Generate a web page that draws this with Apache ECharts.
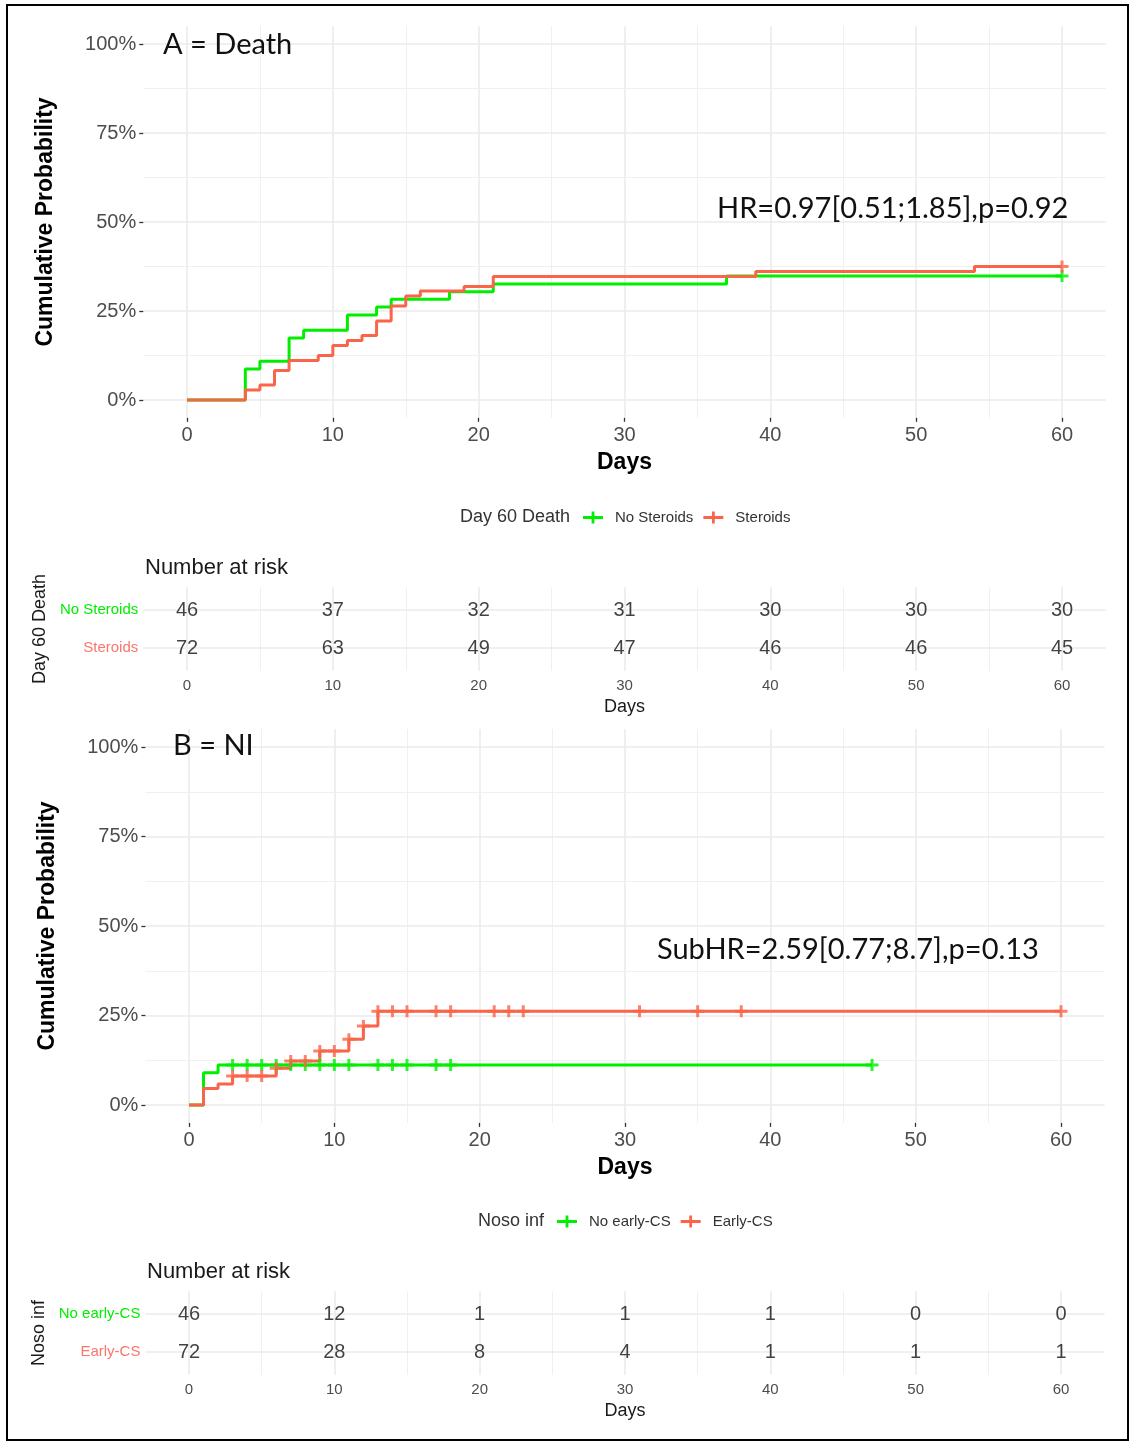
<!DOCTYPE html>
<html>
<head>
<meta charset="utf-8">
<title>Cumulative Probability</title>
<script src="https://cdn.jsdelivr.net/npm/echarts@6/dist/echarts.min.js"></script>
<style>
    html, body { margin: 0; padding: 0; background: #fff; }
    #chart { width: 1133px; height: 1443px; }
</style>
</head>
<body>
<div id="chart"></div>
<script>
// A = Death (Day 60 Death)
var daysA_no = [0, 4, 5, 7, 8, 11, 13, 14, 18, 21, 37, 60];
var probA_no = [0, 8.7, 10.9, 17.4, 19.6, 23.9, 26.1, 28.3, 30.4, 32.6, 34.8, 34.8];
var daysA_st = [0, 4, 5, 6, 7, 9, 10, 11, 12, 13, 14, 15, 16, 19, 21, 39, 54, 60];
var probA_st = [0, 2.8, 4.2, 8.3, 11.1, 12.5, 15.3, 16.7, 18.1, 22.2, 26.4, 29.2, 30.6, 31.9, 34.7, 36.1, 37.5, 37.5];
var censA_no = [60];
var censA_st = [60];

// B = NI (Noso inf)
var daysB_no = [0, 1, 2, 47];
var probB_no = [0, 9.0, 11.2, 11.2];
var daysB_st = [0, 1, 2, 3, 6, 7, 9, 11, 12, 13, 60];
var probB_st = [0, 4.6, 5.9, 8.1, 10.3, 12.3, 15.1, 18.4, 22.1, 26.2, 26.2];
var censB_no = [3, 4, 5, 6, 7, 8, 9, 10, 11, 13, 14, 15, 17, 18, 47];
var censB_st = [3, 4, 5, 6, 7, 8, 9, 10, 11, 12, 13, 14, 15, 17, 18, 21, 22, 23, 31, 35, 38, 60];

// number at risk
var riskDays = [0, 10, 20, 30, 40, 50, 60];
var riskA_no = [46, 37, 32, 31, 30, 30, 30];
var riskA_st = [72, 63, 49, 47, 46, 46, 45];
var riskB_no = [46, 12, 1, 1, 1, 0, 0];
var riskB_st = [72, 28, 8, 4, 1, 1, 1];

var xTicks = [0, 10, 20, 30, 40, 50, 60];
var xMinor = [5, 15, 25, 35, 45, 55];
var yTicks = [0, 25, 50, 75, 100];
var yMinor = [12.5, 37.5, 62.5, 87.5];

var GREEN = '#00EE00';
var RED = '#FA6448';
var SANS = '"Liberation Sans", Arial, sans-serif';
var ANNO = 'Lato, "Open Sans", sans-serif';
var PLUS = 'path://M0,4.5H13V7.5H0Z M5,0H8V12H5Z';
var LEG_PLUS = 'path://M0,4.6H20V7.4H0Z M8.6,0H11.4V12H8.6Z';

function pairs(days, vals) {
    return days.map(function (d, i) { return [d, vals[i]]; });
}
function valueAt(days, vals, t) {
    var v = vals[0];
    for (var i = 0; i < days.length; i++) if (days[i] <= t) v = vals[i];
    return v;
}
function cens(list, days, vals) {
    return list.map(function (t) { return [t, valueAt(days, vals, t)]; });
}
function riskData(vals, row) {
    return riskDays.map(function (d, i) { return [d, row, vals[i]]; });
}

// grid geometry (pixel)
var gA = { left: 143.25, width: 962.5, top: 26.2, height: 391.6 };
var tA = { left: 143.25, width: 962.5, top: 587.2, height: 83.6 };
var gB = { left: 145.4, width: 959.2, top: 729.1, height: 393.8 };
var tB = { left: 145.4, width: 959.2, top: 1291.2, height: 83.6 };

function gridLines(hy, xi) {
    var data = [];
    xTicks.forEach(function (v) { data.push({ xAxis: v, lineStyle: { type: 'solid', width: 1.6, color: '#EBEBEB' } }); });
    xMinor.forEach(function (v) { data.push({ xAxis: v, lineStyle: { type: 'solid', width: 1.1, color: '#F0F0F0' } }); });
    hy.forEach(function (h) { data.push({ yAxis: h.v, lineStyle: { type: 'solid', width: h.w, color: h.c } }); });
    return {
        type: 'line', xAxisIndex: xi, yAxisIndex: xi, data: [], z: 0, silent: true,
        markLine: {
            z: 0, silent: true, symbol: ['none', 'none'], label: { show: false }, animation: false,
            lineStyle: { type: 'solid' }, emphasis: { disabled: true }, data: data
        }
    };
}
var plotH = yTicks.map(function (v) { return { v: v, w: 1.6, c: '#EBEBEB' }; })
    .concat(yMinor.map(function (v) { return { v: v, w: 1.1, c: '#F0F0F0' }; }));
var tableH = [{ v: 1, w: 1.6, c: '#EBEBEB' }, { v: 2, w: 1.6, c: '#EBEBEB' }];

var hiddenLine = { show: true, onZero: false, lineStyle: { color: 'rgba(0,0,0,0)' } };

function plotX(gi) {
    return {
        gridIndex: gi, type: 'value', min: -3, max: 63,
        splitLine: { show: false }, axisLine: hiddenLine,
        axisTick: { show: true, customValues: xTicks, length: 4, lineStyle: { color: '#333', width: 1.3 } },
        axisLabel: { customValues: xTicks, fontSize: 20, color: '#4D4D4D', margin: 8, fontFamily: SANS },
        name: 'Days', nameLocation: 'middle', nameGap: 33,
        nameTextStyle: { fontSize: 23, fontWeight: 'bold', color: '#000', fontFamily: SANS }
    };
}
function plotY(gi) {
    return {
        gridIndex: gi, type: 'value', min: -5, max: 105,
        splitLine: { show: false }, axisLine: hiddenLine,
        axisTick: { show: true, customValues: yTicks, length: 4, lineStyle: { color: '#333', width: 1.3 } },
        axisLabel: { customValues: yTicks, formatter: '{value}%', fontSize: 20, color: '#4D4D4D', margin: 7, fontFamily: SANS },
        name: 'Cumulative Probability', nameLocation: 'middle', nameRotate: 90, nameGap: 86,
        nameTextStyle: { fontSize: 23, fontWeight: 'bold', color: '#000', fontFamily: SANS }
    };
}
function tableX(gi) {
    return {
        gridIndex: gi, type: 'value', min: -3, max: 63,
        splitLine: { show: false }, axisLine: { show: false, onZero: false }, axisTick: { show: false },
        axisLabel: { customValues: xTicks, fontSize: 15, color: '#4D4D4D', margin: 8, fontFamily: SANS },
        name: 'Days', nameLocation: 'middle', nameGap: 27,
        nameTextStyle: { fontSize: 18, color: '#1A1A1A', fontFamily: SANS }
    };
}
function tableY(gi, title, names) {
    return {
        gridIndex: gi, type: 'value', min: 0.4, max: 2.6, inverse: true,
        splitLine: { show: false }, axisLine: { show: false, onZero: false }, axisTick: { show: false },
        axisLabel: {
            customValues: [1, 2], margin: 5,
            formatter: function (v) { return v === 1 ? '{g|' + names[0] + '}' : '{r|' + names[1] + '}'; },
            rich: {
                g: { color: GREEN, fontSize: 15, fontFamily: SANS },
                r: { color: '#F8766D', fontSize: 15, fontFamily: SANS }
            }
        },
        name: title, nameLocation: 'middle', nameRotate: 90, nameGap: 83,
        nameTextStyle: { fontSize: 18, color: '#1A1A1A', fontFamily: SANS }
    };
}
function curve(name, xi, days, vals, color) {
    return {
        name: name, type: 'line', step: 'end', xAxisIndex: xi, yAxisIndex: xi, z: 3,
        symbol: 'none', data: pairs(days, vals),
        lineStyle: { color: color, width: 3 }, itemStyle: { color: color }
    };
}
function marks(name, xi, list, days, vals, color) {
    return {
        name: name, type: 'scatter', xAxisIndex: xi, yAxisIndex: xi, z: 4,
        symbol: PLUS, symbolSize: [13, 12], data: cens(list, days, vals),
        itemStyle: { color: color }
    };
}
function risk(xi, vals, row) {
    return {
        type: 'scatter', xAxisIndex: xi, yAxisIndex: xi, z: 5, silent: true,
        symbolSize: 1, itemStyle: { color: 'transparent' },
        data: riskData(vals, row),
        label: {
            show: true, position: 'inside', fontSize: 20, color: '#111', fontFamily: SANS,
            formatter: function (p) { return String(p.value[2]); }
        }
    };
}
function legendFor(names, left, top) {
    return {
        left: left, top: top, orient: 'horizontal', padding: 0, itemWidth: 20, itemHeight: 12, itemGap: 10,
        selectedMode: false,
        data: [{ name: names[0], icon: LEG_PLUS }, { name: names[1], icon: LEG_PLUS }],
        textStyle: { fontSize: 15, color: '#333', fontFamily: SANS, padding: [0, 0, 0, 7] }
    };
}
function txt(x, y, s, font, fill) {
    return { type: 'text', x: x, y: y, z: 100, silent: true, style: { text: s, font: font, fill: fill || '#111', verticalAlign: 'middle' } };
}

var chart = echarts.init(document.getElementById('chart'), null, { renderer: 'canvas' });
var option = {
    animation: false,
    backgroundColor: '#fff',
    grid: [gA, tA, gB, tB].map(function (g) {
        return { left: g.left, width: g.width, top: g.top, height: g.height, outerBoundsMode: 'none' };
    }),
    xAxis: [plotX(0), tableX(1), plotX(2), tableX(3)],
    yAxis: [plotY(0), tableY(1, 'Day 60 Death', ['No Steroids', 'Steroids']),
            plotY(2), tableY(3, 'Noso inf', ['No early-CS', 'Early-CS'])],
    legend: [legendFor(['No Steroids', 'Steroids'], 583, 510), legendFor(['No early-CS', 'Early-CS'], 557, 1214)],
    series: [
        gridLines(plotH, 0),
        curve('No Steroids', 0, daysA_no, probA_no, GREEN),
        curve('Steroids', 0, daysA_st, probA_st, RED),
        marks('No Steroids', 0, censA_no, daysA_no, probA_no, GREEN),
        marks('Steroids', 0, censA_st, daysA_st, probA_st, RED),

        gridLines(tableH, 1),
        risk(1, riskA_no, 1),
        risk(1, riskA_st, 2),

        gridLines(plotH, 2),
        curve('No early-CS', 2, daysB_no, probB_no, GREEN),
        curve('Early-CS', 2, daysB_st, probB_st, RED),
        marks('No early-CS', 2, censB_no, daysB_no, probB_no, GREEN),
        marks('Early-CS', 2, censB_st, daysB_st, probB_st, RED),

        gridLines(tableH, 3),
        risk(3, riskB_no, 1),
        risk(3, riskB_st, 2)
    ],
    graphic: [
        { type: 'rect', silent: true, z: 100, shape: { x: 7, y: 5, width: 1121, height: 1435 },
          style: { fill: 'none', stroke: '#000', lineWidth: 2 } },
        txt(163, 45, 'A = Death', '29px ' + ANNO),
        txt(717, 209, 'HR=0.97[0.51;1.85],p=0.92', '29px ' + ANNO),
        txt(173, 746, 'B = NI', '29px ' + ANNO),
        txt(657, 950, 'SubHR=2.59[0.77;8.7],p=0.13', '29px ' + ANNO),
        txt(145, 568, 'Number at risk', '22px ' + SANS, '#1A1A1A'),
        txt(147, 1272, 'Number at risk', '22px ' + SANS, '#1A1A1A'),
        txt(460, 517, 'Day 60 Death', '18px ' + SANS, '#333'),
        txt(478, 1221, 'Noso inf', '18px ' + SANS, '#333')
    ]
};
chart.setOption(option);
</script>
</body>
</html>
